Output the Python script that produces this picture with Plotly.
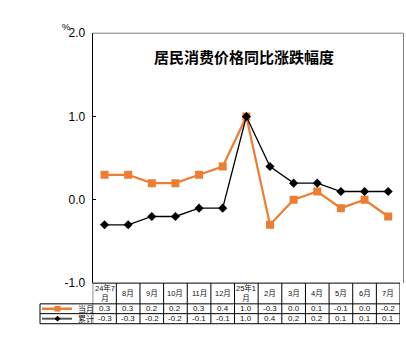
import plotly.graph_objects as go

# Months shown along the x axis / table header
categories = ["24年7月", "8月", "9月", "10月", "11月", "12月", "25年1月",
              "2月", "3月", "4月", "5月", "6月", "7月"]
header_labels = ["24年7<br>月", "8月", "9月", "10月", "11月", "12月", "25年1<br>月",
                 "2月", "3月", "4月", "5月", "6月", "7月"]

# Year-on-year change, %
monthly = [0.3, 0.3, 0.2, 0.2, 0.3, 0.4, 1.0, -0.3, 0.0, 0.1, -0.1, 0.0, -0.2]
cumulative = [-0.3, -0.3, -0.2, -0.2, -0.1, -0.1, 1.0, 0.4, 0.2, 0.2, 0.1, 0.1, 0.1]

series_names = ["当月", "累计"]
y_ticks = [-1.0, 0.0, 1.0, 2.0]

W, H = 406, 348
ORANGE = "#ED7D31"
BLACK = "#000000"


def px(x):
    return x / W


def py(y):
    return 1 - y / H


# plot-area geometry in pixels
X0, X1 = 92.7, 400.0
Y_TOP, Y_BOT = 27.3, 287.7
FRAME_R = 403.5
ROW1, ROW2, ROW3 = 309.3, 319.5, 330.0
LEG_L = 40.0

xs = list(range(len(categories)))

fig = go.Figure()
fig.add_trace(go.Scatter(
    x=xs, y=monthly, mode="lines+markers", name=series_names[0],
    line=dict(color=ORANGE, width=2.2),
    marker=dict(symbol="square", size=8, color=ORANGE),
))
fig.add_trace(go.Scatter(
    x=xs, y=cumulative, mode="lines+markers", name=series_names[1],
    line=dict(color=BLACK, width=1.3),
    marker=dict(symbol="diamond", size=7, color=BLACK),
))

shapes = []
# gray frame top and right
shapes.append(dict(type="line", xref="paper", yref="paper",
                   x0=px(X0), x1=px(FRAME_R), y0=py(Y_TOP), y1=py(Y_TOP),
                   line=dict(color="#808080", width=1)))
shapes.append(dict(type="line", xref="paper", yref="paper",
                   x0=px(FRAME_R), x1=px(FRAME_R), y0=py(Y_TOP), y1=py(Y_BOT),
                   line=dict(color="#808080", width=1)))

# data table grid
for i in range(len(categories) + 1):
    shapes.append(dict(type="line", xref="x", yref="paper",
                       x0=i - 0.5, x1=i - 0.5, y0=py(Y_BOT), y1=py(ROW3),
                       line=dict(color=BLACK, width=1)))
shapes.append(dict(type="line", xref="paper", yref="paper",
                   x0=px(X0), x1=px(X1), y0=py(Y_BOT), y1=py(Y_BOT),
                   line=dict(color=BLACK, width=1)))
for yy in (ROW1, ROW2, ROW3):
    shapes.append(dict(type="line", xref="paper", yref="paper",
                       x0=px(LEG_L), x1=px(X1), y0=py(yy), y1=py(yy),
                       line=dict(color=BLACK, width=1)))
shapes.append(dict(type="line", xref="paper", yref="paper",
                   x0=px(LEG_L), x1=px(LEG_L), y0=py(ROW1), y1=py(ROW3),
                   line=dict(color=BLACK, width=1)))

# legend keys inside the table's first column
r1c = (ROW1 + ROW2) / 2
r2c = (ROW2 + ROW3) / 2
shapes.append(dict(type="line", xref="paper", yref="paper",
                   x0=px(42), x1=px(72), y0=py(r1c), y1=py(r1c),
                   line=dict(color=ORANGE, width=2.5)))
shapes.append(dict(type="rect", xref="paper", yref="paper",
                   x0=px(54.5), x1=px(60.5), y0=py(r1c - 3), y1=py(r1c + 3),
                   fillcolor=ORANGE, line=dict(width=0)))
shapes.append(dict(type="line", xref="paper", yref="paper",
                   x0=px(42), x1=px(72), y0=py(r2c), y1=py(r2c),
                   line=dict(color="#555555", width=2)))
cx = 57.5
shapes.append(dict(type="path", xref="paper", yref="paper",
                   path=(f"M {px(cx - 3)} {py(r2c)} L {px(cx)} {py(r2c - 3)} "
                         f"L {px(cx + 3)} {py(r2c)} L {px(cx)} {py(r2c + 3)} Z"),
                   fillcolor=BLACK, line=dict(width=0)))

annotations = []
cell_font = dict(family="Liberation Sans, Arial, Noto Sans CJK SC", size=8, color="#111111")
head_font = dict(family="Liberation Sans, Arial, Noto Sans CJK SC", size=7.5, color="#111111")
for i, lab in enumerate(header_labels):
    annotations.append(dict(x=i, y=py((Y_BOT + ROW1) / 2), xref="x", yref="paper",
                            text=lab, showarrow=False, font=head_font,
                            xanchor="center", yanchor="middle"))
    annotations.append(dict(x=i, y=py(r1c), xref="x", yref="paper",
                            text=f"{monthly[i]:.1f}", showarrow=False, font=cell_font,
                            xanchor="center", yanchor="middle"))
    annotations.append(dict(x=i, y=py(r2c), xref="x", yref="paper",
                            text=f"{cumulative[i]:.1f}", showarrow=False, font=cell_font,
                            xanchor="center", yanchor="middle"))
for name, yc in zip(series_names, (r1c, r2c)):
    annotations.append(dict(x=px(76), y=py(yc), xref="paper", yref="paper",
                            text=name, showarrow=False, font=cell_font,
                            xanchor="left", yanchor="middle"))

# title and unit
annotations.append(dict(x=px(244), y=py(52), xref="paper", yref="paper",
                        text="<b>居民消费价格同比涨跌幅度</b>", showarrow=False,
                        font=dict(family="Noto Sans CJK SC", size=15, color="#000000"),
                        xanchor="center", yanchor="middle"))
annotations.append(dict(x=px(60), y=py(21), xref="paper", yref="paper",
                        text="%", showarrow=False,
                        font=dict(family="Liberation Sans, Arial", size=9, color="#000000"),
                        xanchor="left", yanchor="middle"))

fig.update_layout(
    width=W, height=H,
    margin=dict(l=0, r=0, t=0, b=0),
    paper_bgcolor="white", plot_bgcolor="white",
    showlegend=False,
    xaxis=dict(domain=[px(X0), px(X1)], range=[-0.5, len(categories) - 0.5],
               showgrid=False, zeroline=False, showticklabels=False, ticks="",
               showline=False, fixedrange=True),
    yaxis=dict(domain=[py(Y_BOT), py(Y_TOP)], range=[-1, 2],
               tickvals=y_ticks, ticktext=[f"{v:.1f}" for v in y_ticks],
               showgrid=False, zeroline=False,
               showline=True, linecolor=BLACK, linewidth=1,
               ticks="inside", ticklen=3, tickcolor=BLACK,
               ticklabelstandoff=4,
               tickfont=dict(family="Liberation Sans, Arial", size=12, color="#000000"),
               fixedrange=True),
    shapes=shapes,
    annotations=annotations,
)

fig.write_html("out.html")
